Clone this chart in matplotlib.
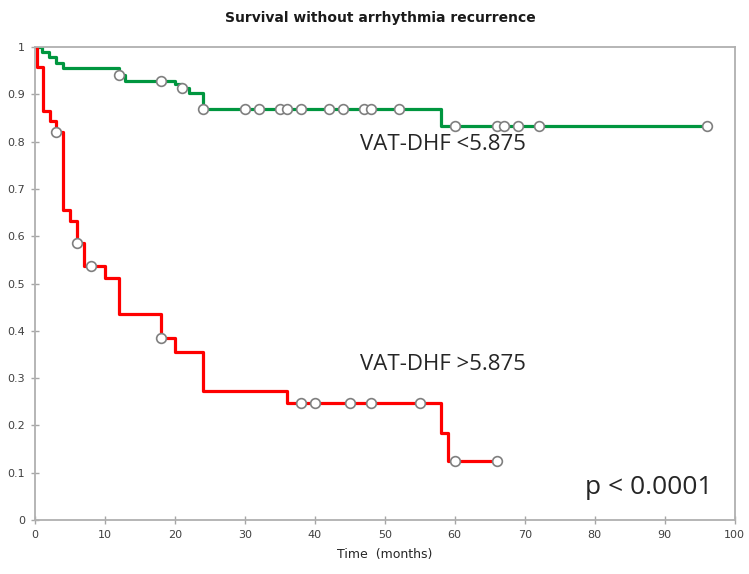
import numpy as np
import matplotlib.pyplot as plt

# Kaplan-Meier curves
green_t = [0, 1, 2, 3, 4, 12, 12.9, 20, 21, 22, 24, 58, 96]
green_s = [1, 0.989, 0.978, 0.967, 0.955, 0.942, 0.929, 0.921, 0.914, 0.902, 0.869, 0.833, 0.833]
green_cens = [12, 18, 21, 24, 30, 32, 35, 36, 38, 42, 44, 47, 48, 52, 60, 66, 67, 69, 72, 96]

red_t = [0, 0.3, 1.1, 2.1, 3, 4, 5, 6, 7, 10, 12, 18, 20, 24, 36, 58, 59, 66]
red_s = [1, 0.957, 0.865, 0.843, 0.821, 0.655, 0.632, 0.586, 0.537, 0.511, 0.435,
         0.384, 0.356, 0.273, 0.248, 0.185, 0.124, 0.124]
red_cens = [3, 6, 8, 18, 38, 40, 45, 48, 55, 60, 66]

green_label = 'VAT-DHF <5.875'
red_label = 'VAT-DHF >5.875'
p_text = 'p < 0.0001'


def step_value(t, s, x):
    i = np.searchsorted(t, x, side='right') - 1
    return np.array(s)[i]


fig = plt.figure(figsize=(7.49, 5.74), dpi=100)
ax = fig.add_axes([0.0467, 0.094, 0.934, 0.824])

ax.plot(green_t, green_s, drawstyle='steps-post', color='#00963f', lw=2.3, zorder=2)
ax.plot(red_t, red_s, drawstyle='steps-post', color='#ff0000', lw=2.3, zorder=2)

gy = step_value(green_t, green_s, green_cens)
ry = step_value(red_t, red_s, red_cens)
ax.plot(green_cens, gy, 'o', ms=7, mfc='white', mec='#7f7f7f', mew=1.2, zorder=3)
ax.plot(red_cens, ry, 'o', ms=7, mfc='white', mec='#7f7f7f', mew=1.2, zorder=3)

ax.text(46.4, 0.793, green_label, fontsize=16, color='#262626',
        family='Open Sans', va='center', ha='left')
ax.text(46.4, 0.328, red_label, fontsize=16, color='#262626',
        family='Open Sans', va='center', ha='left')
ax.text(78.6, 0.068, p_text, fontsize=19, color='#262626',
        family='Open Sans', va='center', ha='left')

ax.set_xlim(0, 100)
ax.set_ylim(0, 1)
ax.set_xticks(np.arange(0, 101, 10))
ax.set_yticks(np.arange(0, 1.01, 0.1))
ax.set_yticklabels(['0', '0.1', '0.2', '0.3', '0.4', '0.5', '0.6', '0.7', '0.8', '0.9', '1'])
ax.tick_params(direction='inout', length=6, width=1, color='#a6a6a6',
               labelsize=8, labelcolor='#404040', pad=4)
for sp in ax.spines.values():
    sp.set_color('#b0b0b0')
    sp.set_linewidth(1.3)

ax.set_xlabel('Time  (months)', fontsize=9, color='#262626', labelpad=6)
fig.text(0.508, 0.968, 'Survival without arrhythmia recurrence', fontsize=10,
         fontweight='bold', ha='center', va='center', color='#1a1a1a')

fig.savefig('out.png', dpi=100)
